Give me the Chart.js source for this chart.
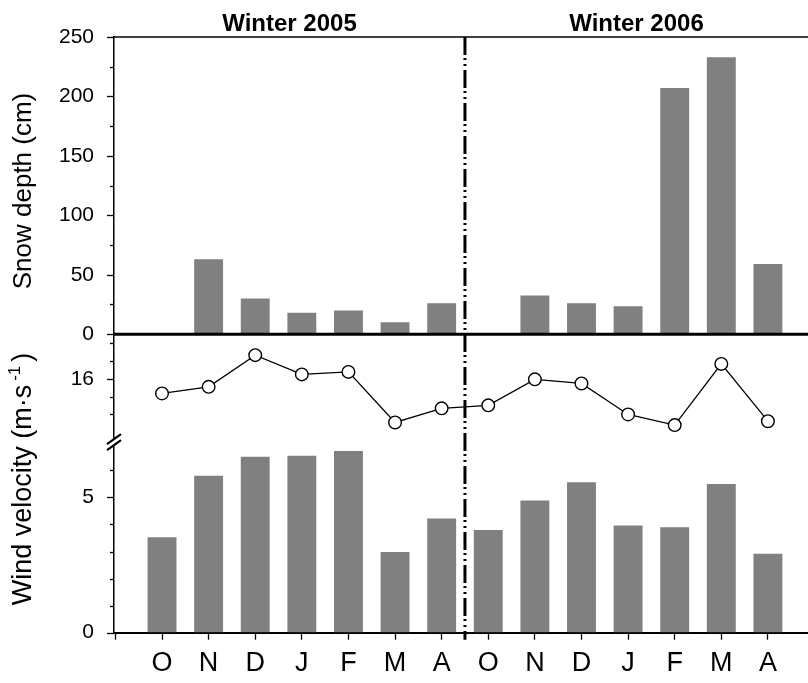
<!DOCTYPE html>
<html>
<head>
<meta charset="utf-8">
<script src="https://cdn.jsdelivr.net/npm/chart.js@4.4.1/dist/chart.umd.min.js"></script>
<style>
  html, body { margin: 0; padding: 0; background: #fff; overflow: hidden; }
  #wrap { width: 808px; height: 683px; position: relative; overflow: hidden; }
  canvas { display: block; }
</style>
</head>
<body>
<div id="wrap"><canvas id="c" width="808" height="683"></canvas></div>
<script>
// Months of each winter season (October to April), two seasons side by side
const months = ['O', 'N', 'D', 'J', 'F', 'M', 'A', 'O', 'N', 'D', 'J', 'F', 'M', 'A'];
const seasons = ['Winter 2005', 'Winter 2006'];

// Monthly mean snow depth (cm); no snow cover in October
const snowDepth = [null, 63, 30, 18, 20, 10, 26, null, 32.5, 26, 23.5, 207, 233, 59];
// Monthly mean wind velocity (m/s), bars
const windMean = [3.53, 5.8, 6.5, 6.54, 6.71, 2.98, 4.22, 3.79, 4.88, 5.56, 3.96, 3.9, 5.49, 2.92];
// Monthly peak wind velocity (m/s), line above the axis break
const windPeak = [15.18, 15.55, 17.33, 16.25, 16.39, 13.55, 14.34, 14.51, 15.97, 15.74, 14.0, 13.4, 16.84, 13.62];

// Axis tick values: labelled (major) and unlabelled (minor)
const snowMajor = [0, 50, 100, 150, 200, 250];
const snowMinor = [25, 75, 125, 175, 225];
const peakMajor = [16];
const peakMinor = [14, 15, 17, 18];
const meanMajor = [0, 5];
const meanMinor = [1, 2, 3, 4, 6];

const FONT = "'Liberation Sans', Arial, Helvetica, sans-serif";
const xPos = months.map((m, i) => i + 1);
const toPoints = arr => arr.map((v, i) => ({ x: xPos[i], y: v }));

const yScaleBase = {
  type: 'linear',
  position: 'left',
  stack: 'panels',
  grid: { display: true, drawOnChartArea: false, drawTicks: false },
  border: { display: true, color: '#000', width: 1.5 },
  ticks: { color: '#000', padding: 20, autoSkip: false, font: { family: FONT, size: 21 } },
  afterFit: s => { s.width = 114; }
};

const decor = {
  id: 'decor',
  afterDatasetsDraw(chart) {
    const { ctx, chartArea: ca, scales } = chart;
    const x = scales.x, ys = scales.ySnow, yp = scales.yPeak, ym = scales.yMean;
    ctx.save();
    ctx.strokeStyle = '#000';
    ctx.lineCap = 'butt';

    // y tick marks (outward)
    const drawTicks = (scale, vals, len) => {
      ctx.lineWidth = 1.3;
      vals.forEach(v => {
        const py = Math.round(scale.getPixelForValue(v)) + 0.5;
        ctx.beginPath();
        ctx.moveTo(ca.left - len, py);
        ctx.lineTo(ca.left, py);
        ctx.stroke();
      });
    };
    drawTicks(ys, snowMajor, 7); drawTicks(ys, snowMinor, 4);
    drawTicks(yp, peakMajor, 7); drawTicks(yp, peakMinor, 4);
    drawTicks(ym, meanMajor, 7); drawTicks(ym, meanMinor, 4);

    // frame line on top of the snow panel
    ctx.lineWidth = 1.5;
    ctx.beginPath();
    ctx.moveTo(ca.left, ys.top);
    ctx.lineTo(ca.right, ys.top);
    ctx.stroke();

    // heavy zero line of the snow panel (separates the two panels)
    const y0 = ys.getPixelForValue(0);
    ctx.lineWidth = 3;
    ctx.beginPath();
    ctx.moveTo(ca.left - 1, y0);
    ctx.lineTo(ca.right, y0);
    ctx.stroke();

    // dash-dot-dot divider between the two winters
    const xd = x.getPixelForValue(7.5);
    ctx.lineWidth = 3;
    ctx.setLineDash([18, 3, 2, 4, 2, 4]);
    ctx.beginPath();
    ctx.moveTo(xd, ca.top);
    ctx.lineTo(xd, ca.bottom + 7);
    ctx.stroke();
    ctx.setLineDash([]);

    // axis break marks between peak and mean wind scales
    const yb = ym.top;
    const ax = ca.left;
    ctx.fillStyle = '#fff';
    ctx.beginPath();
    ctx.moveTo(ax - 7, yb + 6);
    ctx.lineTo(ax + 7, yb - 4);
    ctx.lineTo(ax + 7, yb + 2);
    ctx.lineTo(ax - 7, yb + 12);
    ctx.closePath();
    ctx.fill();
    ctx.lineWidth = 2.2;
    ctx.beginPath();
    ctx.moveTo(ax - 7, yb + 6); ctx.lineTo(ax + 7, yb - 4);
    ctx.moveTo(ax - 7, yb + 12); ctx.lineTo(ax + 7, yb + 2);
    ctx.stroke();

    // season headings, centred over each half
    ctx.fillStyle = '#000';
    ctx.font = `bold 24px ${FONT}`;
    ctx.textAlign = 'center';
    ctx.textBaseline = 'alphabetic';
    const xa = (ca.left + xd) / 2, xb = (xd + ca.right) / 2;
    ctx.fillText(seasons[0], xa, 31);
    ctx.fillText(seasons[1], xb, 31);

    // y-axis titles
    const titleX = 31;
    ctx.font = `26px ${FONT}`;
    ctx.save();
    ctx.translate(titleX, 191);
    ctx.rotate(-Math.PI / 2);
    ctx.textAlign = 'center';
    ctx.fillText('Snow depth (cm)', 0, 0);
    ctx.restore();

    const main = 'Wind velocity (m\u00b7s', sup = '-1', close = ')';
    const mainFont = `27px ${FONT}`, supFont = `17px ${FONT}`;
    const gapA = 4, gapB = 4;
    ctx.font = mainFont; const w1 = ctx.measureText(main).width; const w3 = ctx.measureText(close).width;
    ctx.font = supFont; const w2 = ctx.measureText(sup).width;
    const total = w1 + gapA + w2 + gapB + w3;
    ctx.save();
    ctx.translate(titleX, 479);
    ctx.rotate(-Math.PI / 2);
    ctx.textAlign = 'left';
    let cx = -total / 2;
    ctx.font = mainFont; ctx.fillText(main, cx, 0); cx += w1 + gapA;
    ctx.font = supFont; ctx.fillText(sup, cx, -11); cx += w2 + gapB;
    ctx.font = mainFont; ctx.fillText(close, cx, 0);
    ctx.restore();

    ctx.restore();
  }
};

new Chart(document.getElementById('c').getContext('2d'), {
  data: {
    datasets: [
      {
        type: 'line', label: 'Peak wind', data: toPoints(windPeak), yAxisID: 'yPeak',
        borderColor: '#000', borderWidth: 1.3, pointRadius: 6.3,
        pointBackgroundColor: '#fff', pointBorderColor: '#000', pointBorderWidth: 1.4,
        tension: 0, order: 0
      },
      {
        type: 'bar', label: 'Snow depth', data: toPoints(snowDepth), yAxisID: 'ySnow',
        backgroundColor: '#808080', borderWidth: 0, grouped: false,
        barPercentage: 0.62, categoryPercentage: 1, order: 1
      },
      {
        type: 'bar', label: 'Mean wind', data: toPoints(windMean), yAxisID: 'yMean',
        backgroundColor: '#808080', borderWidth: 0, grouped: false,
        barPercentage: 0.62, categoryPercentage: 1, order: 1
      }
    ]
  },
  options: {
    responsive: false,
    animation: false,
    layout: { autoPadding: false, padding: { top: 37, left: 0, right: 0, bottom: 0 } },
    plugins: { legend: { display: false }, tooltip: { enabled: false }, title: { display: false } },
    scales: {
      x: {
        type: 'linear', position: 'bottom', min: -0.03, max: 14.86, offset: false,
        afterBuildTicks: s => { s.ticks = [0].concat(xPos).map(v => ({ value: v })); },
        afterFit: s => { s.height = 50.3; s.paddingLeft = 0; s.paddingRight = 0; },
        grid: { display: true, offset: false, drawOnChartArea: false, drawTicks: true, tickLength: 7, tickColor: '#000', tickWidth: 1.3 },
        border: { display: true, color: '#000', width: 2 },
        ticks: {
          color: '#000', padding: 0, autoSkip: false, maxRotation: 0,
          font: { family: FONT, size: 27, lineHeight: 1.8 },
          callback: v => months[v - 1] || ''
        }
      },
      yMean: Object.assign({}, yScaleBase, {
        min: 0, max: 7.19, stackWeight: 194.7,
        afterBuildTicks: s => { s.ticks = meanMajor.map(v => ({ value: v })); }
      }),
      yPeak: Object.assign({}, yScaleBase, {
        min: 12.67, max: 18.51, stackWeight: 104,
        afterBuildTicks: s => { s.ticks = peakMajor.map(v => ({ value: v })); }
      }),
      ySnow: Object.assign({}, yScaleBase, {
        min: 0, max: 250, stackWeight: 297.3,
        afterBuildTicks: s => { s.ticks = snowMajor.map(v => ({ value: v })); }
      })
    }
  },
  plugins: [decor]
});
</script>
</body>
</html>
